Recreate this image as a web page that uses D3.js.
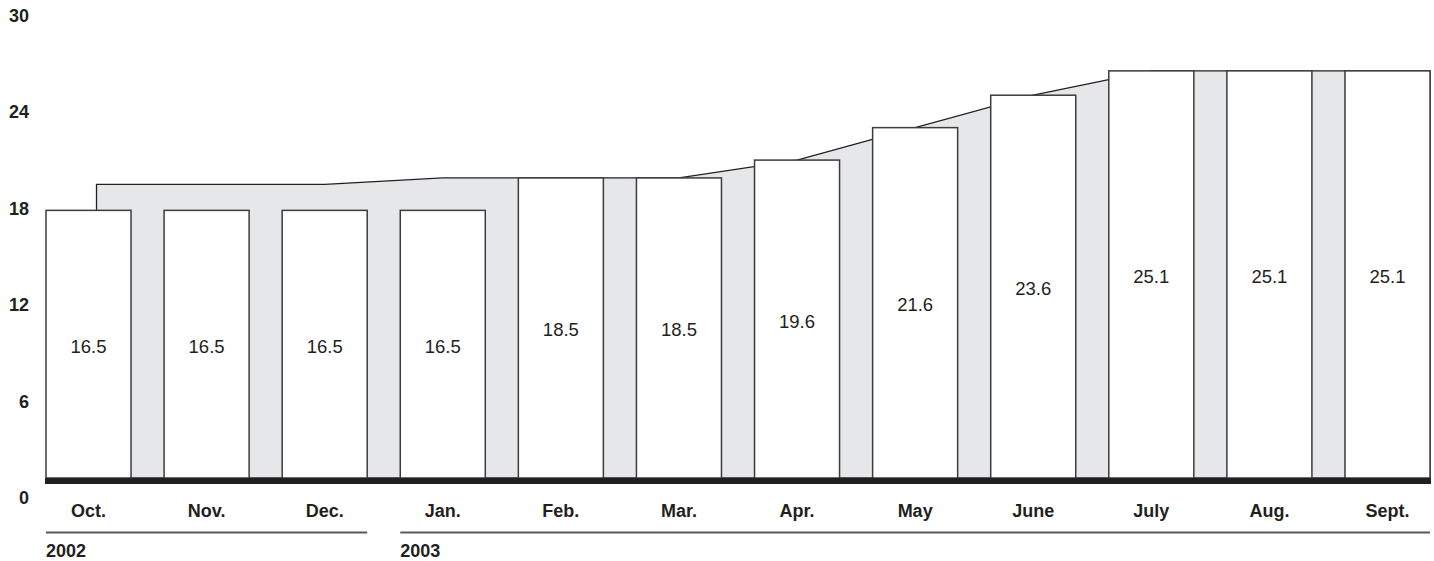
<!DOCTYPE html>
<html>
<head>
<meta charset="utf-8">
<script src="https://cdn.jsdelivr.net/npm/d3@7"></script>
<style>
  html, body { margin: 0; padding: 0; background: #fff; }
  svg { display: block; }
  text { font-family: "Liberation Sans", Arial, Helvetica, sans-serif; fill: #231f20; }
</style>
</head>
<body>
<svg id="chart" width="1434" height="561"></svg>
<script>
// ---- data ----
const months = ["Oct.", "Nov.", "Dec.", "Jan.", "Feb.", "Mar.", "Apr.", "May", "June", "July", "Aug.", "Sept."];
const values = [16.5, 16.5, 16.5, 16.5, 18.5, 18.5, 19.6, 21.6, 23.6, 25.1, 25.1, 25.1];
const envelope = [18.1, 18.1, 18.1, 18.5, 18.5, 18.5, 19.6, 21.6, 23.6, 25.1, 25.1, 25.1];
const tickValues = [0, 6, 12, 18, 24, 30];
const years = ["2002", "2003"];
const yearFirstMonth = ["Oct.", "Jan."];
const yearLastMonth = ["Dec.", "Sept."];

// ---- layout ----
const svg = d3.select("#chart");
const ink = "#231f20";

const x = d3.scaleBand().domain(months).range([46, 1430]).paddingInner(0.28).paddingOuter(0);
const y = d3.scaleLinear().domain([0, 30]).range([478, 478 - 30 * 16.22]);
const yTick = d3.scaleLinear().domain([0, 30]).range([498, 15.5]);
const bw = x.bandwidth();

// envelope (grey band behind bars)
const envPts = months.map((m, i) => [x(m) + bw / 2 + (i === 0 ? 8 : 0), y(envelope[i])]);
envPts.push([x(months[months.length - 1]) + bw, y(envelope[envelope.length - 1])]);
const area = d3.area().x(d => d[0]).y0(y(0)).y1(d => d[1]);
svg.append("path")
  .attr("d", area(envPts))
  .attr("fill", "#e6e7e8")
  .attr("stroke", ink)
  .attr("stroke-width", 1.3);

// bars
svg.append("g").selectAll("rect")
  .data(values)
  .join("rect")
  .attr("x", (d, i) => x(months[i]))
  .attr("y", d => y(d))
  .attr("width", bw)
  .attr("height", d => y(0) - y(d))
  .attr("fill", "#fff")
  .attr("stroke", "#3d3b3c")
  .attr("stroke-width", 1.5);

// baseline
svg.append("rect")
  .attr("x", x(months[0]) - 1)
  .attr("y", y(0))
  .attr("width", x(months[months.length - 1]) + bw - x(months[0]) + 2)
  .attr("height", 6)
  .attr("fill", ink);

// value labels
svg.append("g").selectAll("text")
  .data(values)
  .join("text")
  .attr("x", (d, i) => x(months[i]) + bw / 2)
  .attr("y", d => (y(d) + y(0)) / 2 + 2)
  .attr("text-anchor", "middle")
  .attr("dominant-baseline", "central")
  .attr("font-size", 18.5)
  .text(d => d.toFixed(1));

// y tick labels
svg.append("g").selectAll("text")
  .data(tickValues)
  .join("text")
  .attr("x", 29)
  .attr("y", d => yTick(d))
  .attr("text-anchor", "end")
  .attr("dominant-baseline", "central")
  .attr("font-size", 18)
  .attr("font-weight", "bold")
  .text(d => d);

// month labels
svg.append("g").selectAll("text")
  .data(months)
  .join("text")
  .attr("x", d => x(d) + bw / 2)
  .attr("y", 517)
  .attr("text-anchor", "middle")
  .attr("font-size", 18)
  .attr("font-weight", "bold")
  .text(d => d);

// year groups
const yg = svg.append("g").selectAll("g")
  .data(years)
  .join("g");
yg.append("line")
  .attr("x1", (d, i) => x(yearFirstMonth[i]))
  .attr("x2", (d, i) => x(yearLastMonth[i]) + bw)
  .attr("y1", 532.5)
  .attr("y2", 532.5)
  .attr("stroke", "#5a5859")
  .attr("stroke-width", 2);
yg.append("text")
  .attr("x", (d, i) => x(yearFirstMonth[i]))
  .attr("y", 557)
  .attr("font-size", 18)
  .attr("font-weight", "bold")
  .text(d => d);
</script>
</body>
</html>
